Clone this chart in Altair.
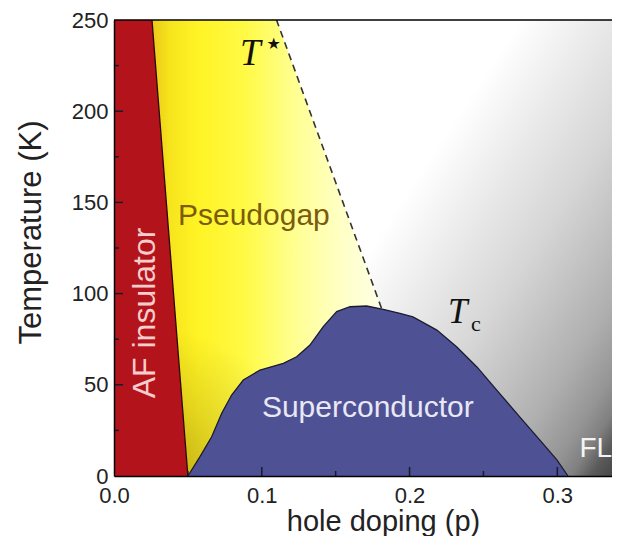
import altair as alt
import pandas as pd

# ---------------- data ----------------
P_MAX = 0.337          # right edge of the (cropped) doping axis
T_MAX = 250            # top of the temperature axis

x_tick_labels = [0.0, 0.1, 0.2, 0.3]
y_tick_labels = [0, 50, 100, 150, 200, 250]
x_major = [0.1, 0.2, 0.3]
x_minor = [0.05, 0.15, 0.25]
y_major = [50, 100, 150, 200]
y_minor = [25, 75, 125, 175, 225]

# AF insulator boundary
af_T = [0, 250]
af_p = [0.050, 0.0257]
# pseudogap (T*) boundary, continued under the dome
tstar_T = [0, 250]
tstar_p = [0.2223, 0.110]
# visible dashed T* line
dash_T = [92, 250]
dash_p = [0.181, 0.110]
# superconducting dome (Tc)
dome_p = [0.050, 0.0582, 0.0661, 0.0729, 0.0796, 0.0875, 0.0988, 0.1146, 0.1236,
          0.1326, 0.1416, 0.1507, 0.1597, 0.1710, 0.1822, 0.1935, 0.2023, 0.2185,
          0.2320, 0.2456, 0.2590, 0.2747, 0.2882, 0.2997, 0.3072]
dome_T = [0, 10.6, 21.5, 34.4, 44.4, 52.6, 58.1, 61.8, 65.4,
          71.8, 81.9, 90.1, 92.8, 93.2, 91.4, 89.2, 87.2, 80.0,
          70.7, 59.8, 47.1, 32.3, 19.7, 8.8, 0]

# region labels
lab_af = {"p": [0.021], "T": [89.4], "t": ["AF insulator"]}
lab_pg = {"p": [0.0433], "T": [137.6], "t": ["Pseudogap"]}
lab_sc = {"p": [0.1001], "T": [32.3], "t": ["Superconductor"]}
lab_fl = {"p": [0.3150], "T": [10.4], "t": ["FL"]}
lab_tstar_T = {"p": [0.0853], "T": [225.3], "t": ["T"]}
lab_tstar_s = {"p": [0.1080], "T": [237.0], "t": ["★"]}
lab_tc_T = {"p": [0.2260], "T": [83.9], "t": ["T"]}
lab_tc_c = {"p": [0.2415], "T": [79.5], "t": ["c"]}

# ---------------- frames ----------------
W, H = 498, 456
bg_df = pd.DataFrame({"x0": [0.0], "x1": [P_MAX], "y0": [0], "y1": [T_MAX]})
yel_df = pd.DataFrame({"T": tstar_T, "pl": [af_p[0], af_p[1]], "pr": tstar_p})
af_df = pd.DataFrame({"T": af_T, "p": af_p})
dash_df = pd.DataFrame({"T": dash_T, "p": dash_p})
dome_df = pd.DataFrame({"p": dome_p, "T": dome_T, "i": list(range(len(dome_p)))})
top_df = pd.DataFrame({"T": [T_MAX], "x0": [0.0], "x1": [P_MAX]})

xs = alt.Scale(domain=[0, P_MAX], nice=False, zero=False)
ys = alt.Scale(domain=[0, T_MAX], nice=False, zero=False)

xaxis = alt.Axis(title="hole doping (p)", values=x_tick_labels, format=".1f",
                 ticks=False, grid=False, labelFlush=False, labelPadding=9,
                 labelFontSize=22, titleFontSize=29, titleFontWeight="normal",
                 titleX=269, titleY=54, titleBaseline="alphabetic", titleAnchor="middle",
                 domainColor="black", domainWidth=1.5, zindex=1)
yaxis = alt.Axis(title="Temperature (K)", values=y_tick_labels, format="d",
                 ticks=False, grid=False, labelFlush=False, labelPadding=6,
                 labelFontSize=22, titleFontSize=31, titleFontWeight="normal",
                 titleX=-74, titleY=212, titleAngle=270, titleAlign="center",
                 titleBaseline="alphabetic", domainColor="black", domainWidth=1.5, zindex=1)


def X(f):
    return alt.X(f, type="quantitative", scale=xs, axis=xaxis)


def Y(f):
    return alt.Y(f, type="quantitative", scale=ys, axis=yaxis)


gray_grad = alt.LinearGradient(
    gradient="linear", x1=0, y1=0, x2=1.2, y2=0.72,
    stops=[alt.GradientStop(offset=0, color="#ffffff"),
           alt.GradientStop(offset=0.50, color="#ffffff"),
           alt.GradientStop(offset=0.61, color="#e8e8e8"),
           alt.GradientStop(offset=0.70, color="#d6d6d6"),
           alt.GradientStop(offset=0.78, color="#c0c0c0"),
           alt.GradientStop(offset=0.84, color="#afafaf"),
           alt.GradientStop(offset=0.90, color="#959595"),
           alt.GradientStop(offset=0.93, color="#808080"),
           alt.GradientStop(offset=0.955, color="#5a5a5a"),
           alt.GradientStop(offset=1, color="#383838")])

yellow_grad = alt.LinearGradient(
    gradient="linear", x1=0, y1=0, x2=1, y2=0,
    stops=[alt.GradientStop(offset=0, color="#ecc818"),
           alt.GradientStop(offset=0.06, color="#f6e41c"),
           alt.GradientStop(offset=0.16, color="#fff425"),
           alt.GradientStop(offset=0.32, color="#fffa45"),
           alt.GradientStop(offset=0.50, color="#ffff95"),
           alt.GradientStop(offset=0.66, color="#ffffc8"),
           alt.GradientStop(offset=0.82, color="#ffffee"),
           alt.GradientStop(offset=1, color="#ffffff")])

shade_grad = alt.RadialGradient(
    gradient="radial", x1=0.2, y1=1.0, r1=0, x2=0.2, y2=1.0, r2=0.32,
    stops=[alt.GradientStop(offset=0, color="rgba(110,80,0,0.42)"),
           alt.GradientStop(offset=0.5, color="rgba(110,80,0,0.18)"),
           alt.GradientStop(offset=1, color="rgba(110,80,0,0)")])

bg = alt.Chart(bg_df).mark_rect(color=gray_grad).encode(
    x=X("x0"), x2="x1", y=Y("y0"), y2="y1")

yellow = alt.Chart(yel_df).mark_area(orient="horizontal", color=yellow_grad).encode(
    y=Y("T"), x=X("pl"), x2="pr")
shade = alt.Chart(yel_df).mark_area(orient="horizontal", color=shade_grad).encode(
    y=Y("T"), x=X("pl"), x2="pr")

dome = alt.Chart(dome_df).mark_area(color="#4f5195").encode(x=X("p"), y=Y("T"))
dome_line = alt.Chart(dome_df).mark_line(color="#1c1c30", strokeWidth=1.3).encode(
    x=X("p"), y=Y("T"), order="i:Q")

af = alt.Chart(af_df).mark_area(orient="horizontal", color="#b3141c").encode(
    y=Y("T"), x=X("p"))
af_line = alt.Chart(af_df).mark_line(color="#2a0808", strokeWidth=1.3).encode(
    x=X("p"), y=Y("T"), order="T:Q")

dash = alt.Chart(dash_df).mark_line(color="#333333", strokeWidth=1.6,
                                    strokeDash=[7, 5]).encode(
    x=X("p"), y=Y("T"), order="T:Q")

top = alt.Chart(top_df).mark_rule(color="black", strokeWidth=1.5).encode(
    y=Y("T"), x=X("x0"), x2="x1")

tick_col = "#1a1a2a"
xmaj = alt.Chart(pd.DataFrame({"p": x_major})).mark_rule(color=tick_col, strokeWidth=1.5).encode(
    x=X("p"), y=alt.value(H), y2=alt.value(H - 9))
xmin = alt.Chart(pd.DataFrame({"p": x_minor})).mark_rule(color=tick_col, strokeWidth=1.5).encode(
    x=X("p"), y=alt.value(H), y2=alt.value(H - 5))
ymaj = alt.Chart(pd.DataFrame({"T": y_major})).mark_rule(color=tick_col, strokeWidth=1.5).encode(
    y=Y("T"), x=alt.value(0), x2=alt.value(9))
ymin = alt.Chart(pd.DataFrame({"T": y_minor})).mark_rule(color=tick_col, strokeWidth=1.5).encode(
    y=Y("T"), x=alt.value(0), x2=alt.value(5))


def label(d, **kw):
    return alt.Chart(pd.DataFrame(d)).mark_text(**kw).encode(x=X("p"), y=Y("T"), text="t:N")


sans = "Liberation Sans"
serif = "Liberation Serif"
texts = [
    label(lab_af, angle=270, fontSize=32, font=sans, color="#f6cccc",
          align="center", baseline="middle"),
    label(lab_pg, fontSize=30, font=sans, color="#7a5c0a", align="left", baseline="alphabetic"),
    label(lab_sc, fontSize=30, font=sans, color="#e8e8f4", align="left", baseline="alphabetic"),
    label(lab_fl, fontSize=28, font=sans, color="#f4f4f4", align="left", baseline="alphabetic"),
    label(lab_tstar_T, fontSize=37, font=serif, fontStyle="italic", color="#111111",
          align="left", baseline="alphabetic"),
    label(lab_tstar_s, fontSize=16, font="DejaVu Sans", color="#111111",
          align="center", baseline="middle"),
    label(lab_tc_T, fontSize=35, font=serif, fontStyle="italic", color="#111111",
          align="left", baseline="alphabetic"),
    label(lab_tc_c, fontSize=22, font=serif, color="#111111",
          align="left", baseline="alphabetic"),
]

chart = alt.layer(
    bg, yellow, shade, dome, dome_line, af, af_line, dash,
    xmaj, xmin, ymaj, ymin, top, *texts
).properties(
    width=W, height=H,
    padding={"left": 106, "top": 12, "right": 0, "bottom": 60},
    autosize=alt.AutoSizeParams(type="none"),
).configure_view(stroke=None).configure_axis(
    labelFont=sans, titleFont=sans, labelColor="#222222", titleColor="#222222"
)

chart.save("out.html", embed_options={"renderer": "svg", "actions": False})
